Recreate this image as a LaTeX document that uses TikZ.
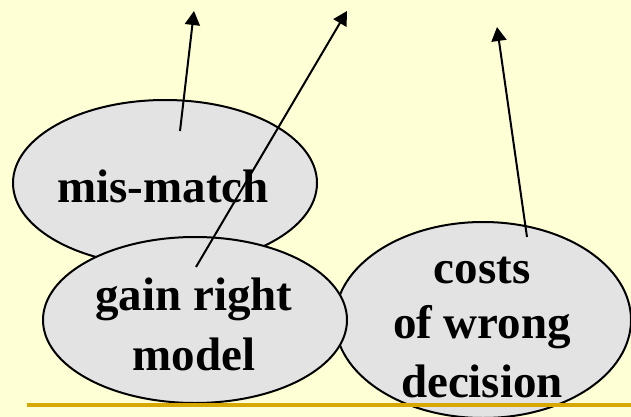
\documentclass[tikz,border=0pt]{standalone}
\usepackage{fontspec}
\setmainfont{Liberation Serif}
\usetikzlibrary{shapes.geometric,arrows.meta}
\definecolor{bgyellow}{RGB}{255,255,213}
\definecolor{ellgray}{RGB}{227,227,227}
\definecolor{rulegold}{RGB}{215,168,0}
\tikzset{
  blob/.style={ellipse, draw=black, line width=2pt, fill=ellgray, inner sep=0pt},
  lbl/.style={anchor=base, inner sep=0pt, font=\fontsize{47}{57}\selectfont\bfseries},
  arr/.style={line width=2pt, -{Triangle[width=15pt,length=14pt]}},
  rule/.style={line width=4pt, draw=rulegold}
}
\begin{document}
\begin{tikzpicture}[x=1pt,y=-1pt]
\fill[bgyellow] (0,0) rectangle (631,417);
\useasboundingbox (0,0) rectangle (631,417);
% ellipses
\node[blob, minimum width=304pt, minimum height=166pt] (mis) at (165,183) {};
\node[blob, minimum width=296pt, minimum height=196pt] (costs) at (483,320) {};
\node[blob, minimum width=304pt, minimum height=166pt] (gain) at (195,320) {};
% texts
\node[lbl] (tmis) at (163,202) {mis-match};
\node[lbl] (tgain1) at (194,310) {gain right};
\node[lbl] (tgain2) at (194,370) {model};
\node[lbl] (tcost1) at (482,283) {costs};
\node[lbl] (tcost2) at (482,338) {of wrong};
\node[lbl] (tcost3) at (482,397) {decision};
% rule line
\coordinate (r0) at (27,405);
\coordinate (r1) at (631,405);
\draw[rule] (r0) -- (r1);
% arrows
\coordinate (s1) at (180,131);
\coordinate (t1) at (194,11);
\coordinate (s2) at (196,267);
\coordinate (t2) at (347,11);
\coordinate (s3) at (527,237);
\coordinate (t3) at (497,27);
\draw[arr] (s1) -- (t1);
\draw[arr] (s2) -- (t2);
\draw[arr] (s3) -- (t3);
\end{tikzpicture}
\end{document}
